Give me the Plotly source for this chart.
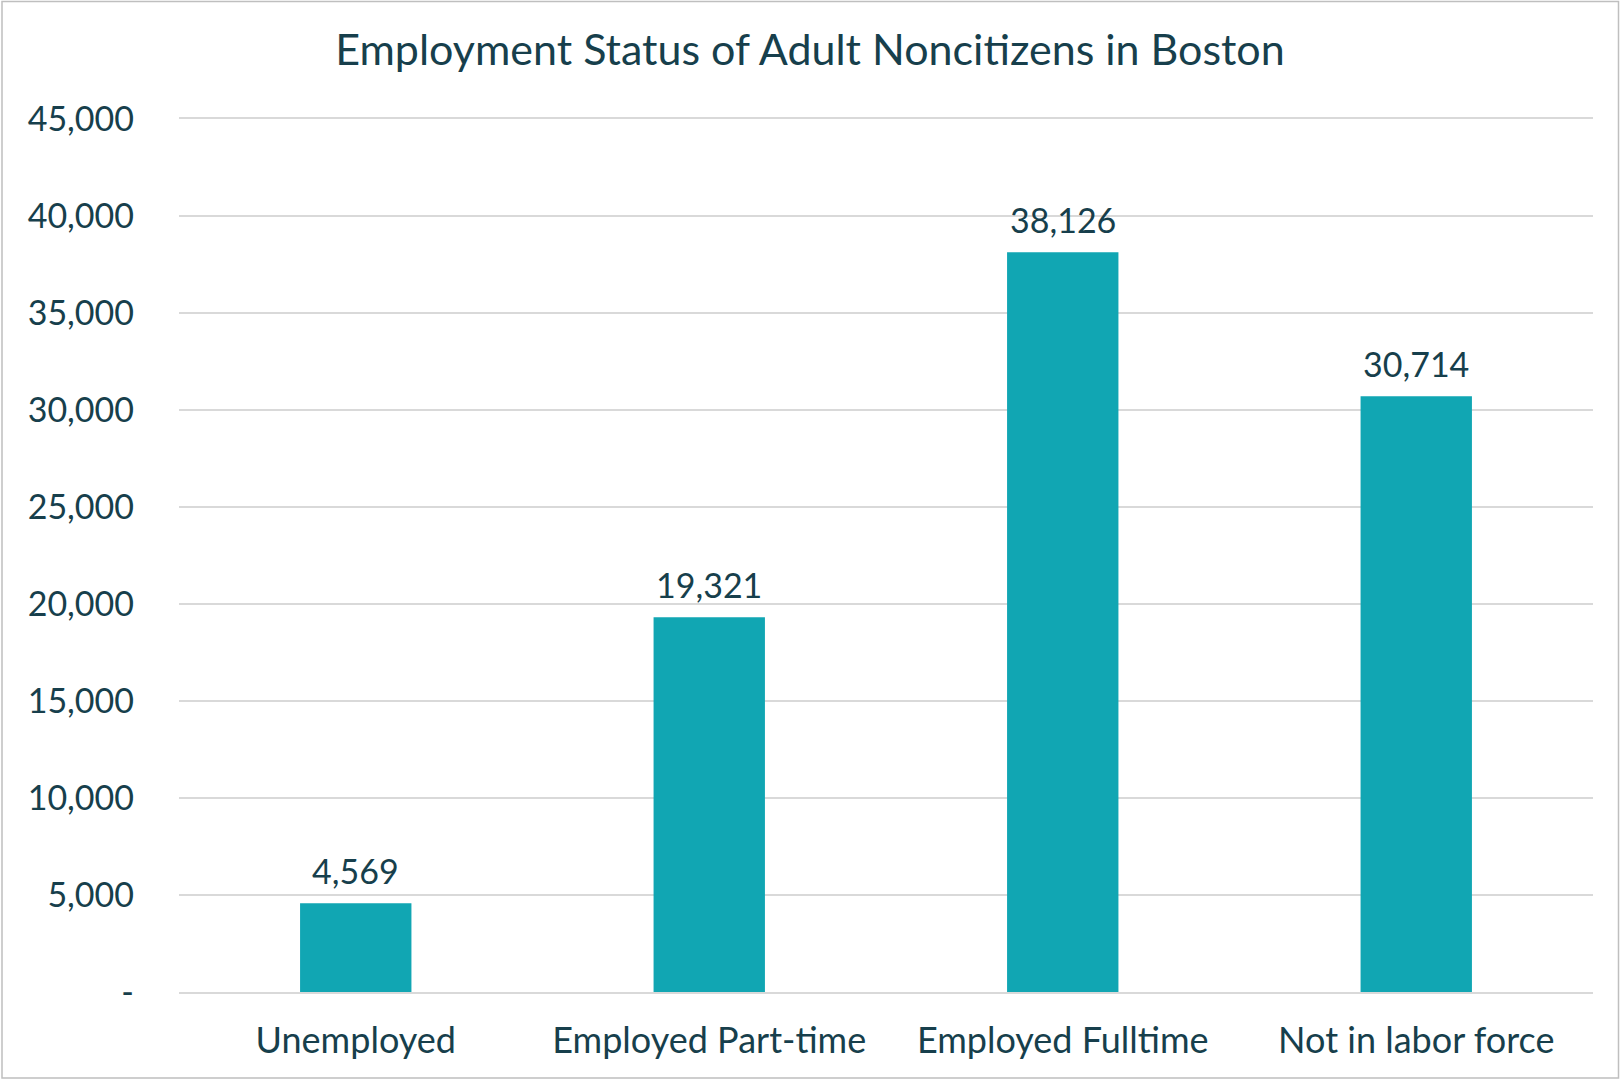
import plotly.graph_objects as go

categories = ["Unemployed", "Employed Part-time", "Employed Fulltime", "Not in labor force"]
values = [4569, 19321, 38126, 30714]
tick_vals = [0, 5000, 10000, 15000, 20000, 25000, 30000, 35000, 40000, 45000]
tick_text = ["-", "5,000", "10,000", "15,000", "20,000", "25,000", "30,000", "35,000", "40,000", "45,000"]
title_text = "Employment Status of Adult Noncitizens in Boston"

TEXT = "#173f4c"
BAR = "#11a6b3"
GRID = "#d9d9d9"
FONT = "Lato, Open Sans, sans-serif"

W, H = 1620, 1079
L, R, T, B = 179, 27, 119, 87

fig = go.Figure()
fig.add_trace(go.Bar(
    x=categories, y=values,
    marker=dict(color=BAR, line=dict(width=0)),
    width=0.315,
    hoverinfo="skip",
))
for c, v in zip(categories, values):
    fig.add_annotation(x=c, y=v, text=f"{v:,}", showarrow=False,
                       yanchor="bottom", yshift=10,
                       font=dict(size=34, color=TEXT, family=FONT))

fig.update_layout(
    width=W, height=H,
    margin=dict(l=L, r=R, t=T, b=B),
    paper_bgcolor="white", plot_bgcolor="white",
    showlegend=False,
    font=dict(family=FONT, color=TEXT),
    title=dict(text=title_text, x=0.5, xref="container", xanchor="center",
               y=1 - 50 / H, yref="container", yanchor="middle",
               font=dict(size=43, color=TEXT, family=FONT)),
)
fig.update_yaxes(
    range=[0, 45000], tickvals=tick_vals, ticktext=tick_text,
    showgrid=True, gridcolor=GRID, gridwidth=1.5,
    zeroline=False, showline=False, ticks="",
    tickfont=dict(size=34, color=TEXT, family=FONT),
    ticklabelstandoff=44,
)
fig.update_xaxes(
    showgrid=False, zeroline=False,
    showline=True, mirror=True, linecolor=GRID, linewidth=1.5,
    ticks="",
    tickfont=dict(size=36, color=TEXT, family=FONT),
    ticklabelstandoff=16,
)
fig.add_shape(type="rect", xref="paper", yref="paper",
              x0=-(L - 2) / (W - L - R), x1=1 + (R - 1.5) / (W - L - R),
              y0=-(B - 1) / (H - T - B), y1=1 + (T - 1.5) / (H - T - B),
              line=dict(color="#bfbfbf", width=1.5), layer="below")

fig.write_html("out.html", config={"displayModeBar": False},
               post_script="document.body.style.margin='0';")
